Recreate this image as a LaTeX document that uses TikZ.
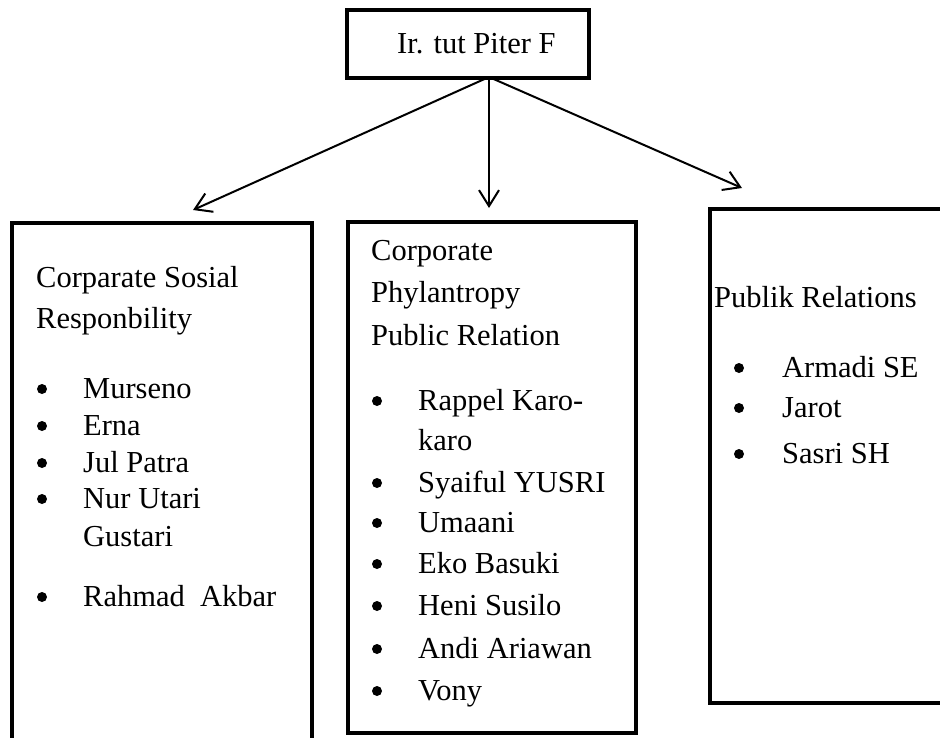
\documentclass[tikz,border=0pt]{standalone}
\usepackage{fontspec}
\setmainfont{Liberation Serif}
\usetikzlibrary{arrows.meta}
\begin{document}
\begin{tikzpicture}[x=1pt,y=-1pt,
  box/.style={draw, line width=4pt, anchor=north west, inner sep=0pt, outer sep=0pt},
  txt/.style={anchor=base west, inner sep=0pt, font=\fontsize{30.5}{36}\selectfont},
  bul/.style={circle, fill, inner sep=0pt, minimum size=10pt},
  arr/.style={line width=2pt, -{Straight Barb[length=16pt,width=20pt]}}]
\useasboundingbox (0,0) rectangle (940,737);
\clip (0,0) rectangle (940,737);

% boxes
\node[box, minimum width=242pt, minimum height=68pt] (boss) at (347,10) {};
\node[box, minimum width=300pt, minimum height=540pt] (csr) at (12,223) {};
\node[box, minimum width=288pt, minimum height=511pt] (cppr) at (348,222) {};
\node[box, minimum width=260pt, minimum height=494pt] (pr) at (710,209) {};

% top label
\node[txt] (bosslabel) at (397,53) {Ir. tut Piter F};

% arrows
\coordinate (src) at (489,77);
\coordinate (tipL) at (193,210);
\coordinate (tipM) at (489,208);
\coordinate (tipR) at (742,188);
\draw[arr] (src) -- (tipL);
\draw[arr] (src) -- (tipM);
\draw[arr] (src) -- (tipR);

% left box
\node[txt] (csrh1) at (36,287) {Corparate Sosial};
\node[txt] (csrh2) at (36,328) {Responbility};
\foreach \n/\t/\yy in {1/Murseno/398, 2/Erna/435, 3/Jul Patra/472, 4/Nur Utari/508, 6/Rahmad\ \ Akbar/606}{
  \node[bul] (csrb\n) at (42,\yy-9) {};
  \node[txt] (csri\n) at (83,\yy) {\t};
}
\node[txt] (csri5) at (83,546) {Gustari};

% middle box
\node[txt] (cpph1) at (371,260) {Corporate};
\node[txt] (cpph2) at (371,302) {Phylantropy};
\node[txt] (cpph3) at (371,345) {Public Relation};
\foreach \n/\t/\yy in {1/Rappel Karo-/410, 3/Syaiful YUSRI/492, 4/Umaani/532, 5/Eko Basuki/573, 6/Heni Susilo/615, 7/Andi Ariawan/658, 8/Vony/700}{
  \node[bul] (cppb\n) at (377,\yy-9) {};
  \node[txt] (cppi\n) at (418,\yy) {\t};
}
\node[txt] (cppi2) at (418,450) {karo};

% right box
\node[txt] (prh) at (714,307) {Publik Relations};
\foreach \n/\t/\yy in {1/Armadi SE/377, 2/Jarot/417, 3/Sasri SH/463}{
  \node[bul] (prb\n) at (739,\yy-9) {};
  \node[txt] (pri\n) at (782,\yy) {\t};
}
\end{tikzpicture}
\end{document}
